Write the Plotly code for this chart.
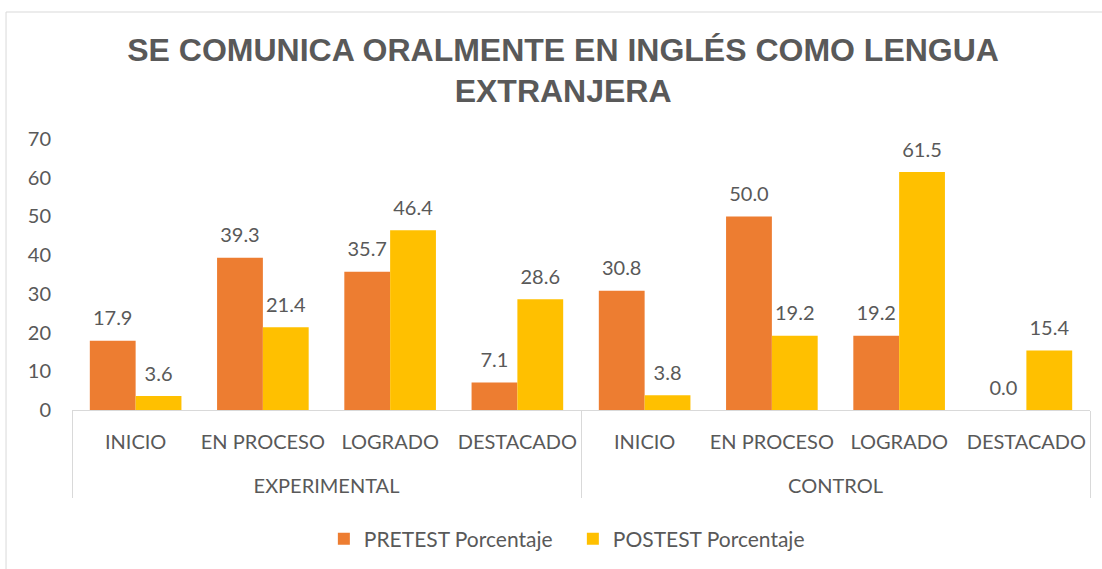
import plotly.graph_objects as go

groups = ["EXPERIMENTAL"] * 4 + ["CONTROL"] * 4
levels = ["INICIO", "EN PROCESO", "LOGRADO", "DESTACADO"] * 2
pretest = [17.9, 39.3, 35.7, 7.1, 30.8, 50.0, 19.2, 0.0]
postest = [3.6, 21.4, 46.4, 28.6, 3.8, 19.2, 61.5, 15.4]
series_names = ["PRETEST Porcentaje", "POSTEST Porcentaje"]
colors = ["#ED7D31", "#FFC000"]
title_text = "SE COMUNICA ORALMENTE EN INGLÉS COMO LENGUA<br>EXTRANJERA"

FONT = "Lato, Calibri, sans-serif"
GREY = "#595959"
# trailing blank line pushes the group labels lower, like Excel's two-level axis
x = [groups, [lv + "<br><span style='font-size:46px'> </span>" for lv in levels]]

fig = go.Figure()
for name, vals, col in zip(series_names, [pretest, postest], colors):
    fig.add_trace(go.Bar(x=x, y=vals, name=name, marker_color=col,
                         marker_line_width=0, offsetgroup=name))
for name, vals in zip(series_names, [pretest, postest]):
    fig.add_trace(go.Scatter(x=x, y=vals, mode="markers+text", text=[f"{v:.1f}" for v in vals],
                             textposition="top center", offsetgroup=name,
                             marker=dict(size=15, opacity=0), showlegend=False, hoverinfo="skip",
                             textfont=dict(family=FONT, size=20, color=GREY), cliponaxis=False))

fig.update_layout(
    width=1102, height=569,
    paper_bgcolor="white", plot_bgcolor="white",
    margin=dict(l=72, r=12, t=139, b=159, autoexpand=False),
    barmode="group", bargap=0.28, bargroupgap=0,
    scattermode="group", scattergap=0.28,
    title=dict(text=title_text, x=0.511, xanchor="center", xref="container",
               y=0.893, yanchor="middle",
               font=dict(family="Liberation Sans, Arial", size=32, color=GREY, weight="bold")),
    font=dict(family=FONT, size=20, color=GREY),
    legend=dict(orientation="h", x=0.492, xanchor="center", y=-0.476, yanchor="middle",
                font=dict(family=FONT, size=21, color=GREY), itemwidth=30,
                entrywidth=204, entrywidthmode="pixels"),
    showlegend=True,
)
fig.update_xaxes(type="multicategory", showline=True, linecolor="#D9D9D9", linewidth=1,
                 showdividers=True, dividercolor="#D9D9D9", dividerwidth=1,
                 ticklabelstandoff=14, tickangle=0, automargin=False,
                 tickfont=dict(family=FONT, size=20, color=GREY), showgrid=False)
fig.update_yaxes(range=[0, 70], dtick=10, showgrid=False, zeroline=False, showline=False,
                 automargin=False,
                 ticklabelstandoff=20, tickfont=dict(family=FONT, size=20, color=GREY))

# outer chart border
fig.add_shape(type="line", xref="paper", yref="paper", x0=-0.0648, x1=1.02, y0=1.4686, y1=1.4686,
              line=dict(color="#D9D9D9", width=1))
fig.add_shape(type="line", xref="paper", yref="paper", x0=-0.0648, x1=-0.0648, y0=1.4686, y1=-0.6,
              line=dict(color="#D9D9D9", width=1))

fig.write_html("out.html")
